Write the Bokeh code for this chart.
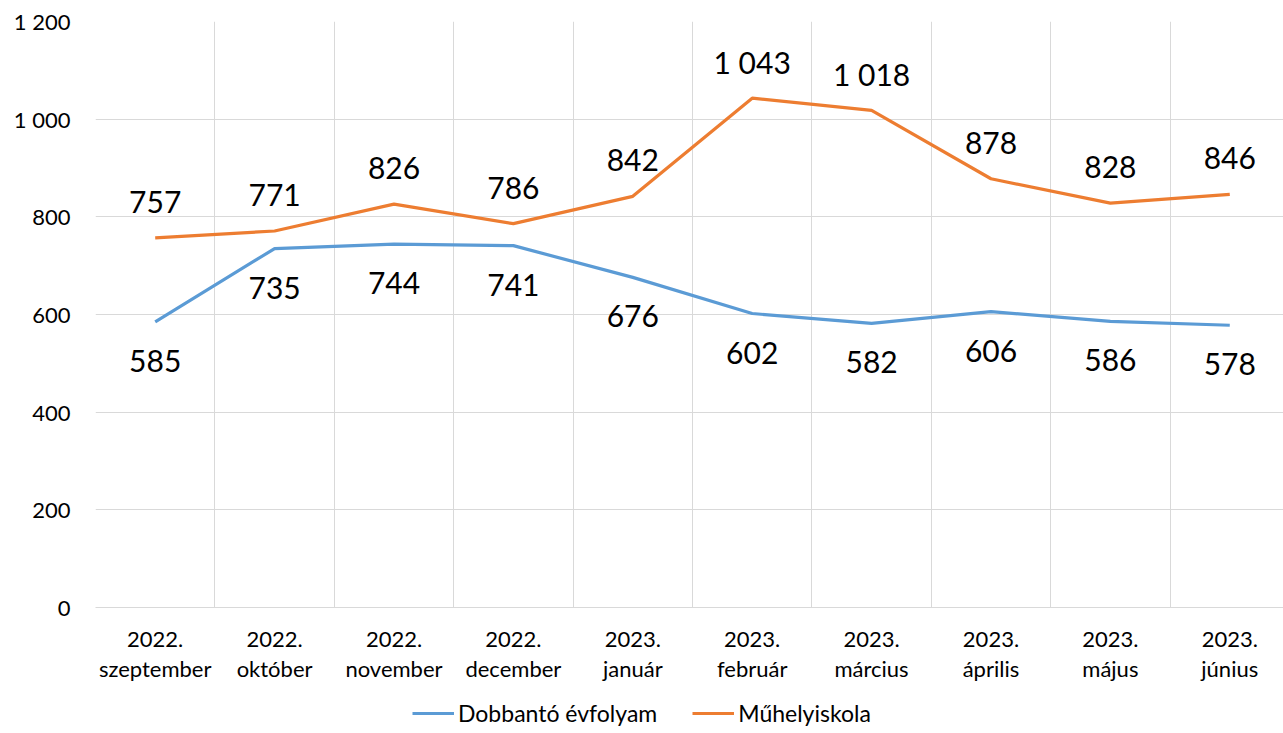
from bokeh.plotting import figure
from bokeh.layouts import column
from bokeh.models import FixedTicker, Legend, LegendItem, ColumnDataSource
from bokeh.core.properties import value
from bokeh.embed import file_html
from bokeh.resources import INLINE

categories = ["2022.\nszeptember", "2022.\noktóber", "2022.\nnovember", "2022.\ndecember",
              "2023.\njanuár", "2023.\nfebruár", "2023.\nmárcius", "2023.\náprilis",
              "2023.\nmájus", "2023.\njúnius"]
dobbanto = [585, 735, 744, 741, 676, 602, 582, 606, 586, 578]
muhely = [757, 771, 826, 786, 842, 1043, 1018, 878, 828, 846]
y_ticks = [0, 200, 400, 600, 800, 1000, 1200]
y_tick_labels = ["0", "200", "400", "600", "800", "1 000", "1 200"]
series_names = ["Dobbantó évfolyam", "Műhelyiskola"]

FONT = "Lato"
BLUE = "#5B9BD5"
ORANGE = "#ED7D31"
GRID = "#D9D9D9"

def fmt(v):
    return f"{v:,}".replace(",", " ")

xs = list(range(len(categories)))
src_d = ColumnDataSource(dict(x=xs, y=dobbanto, t=[fmt(v) for v in dobbanto]))
src_m = ColumnDataSource(dict(x=xs, y=muhely, t=[fmt(v) for v in muhely]))

p = figure(width=1283, height=700, output_backend="svg", toolbar_location=None,
           x_range=(-0.5, 9.45), y_range=(0, 1200),
           min_border_left=95, min_border_right=0, min_border_top=21, min_border_bottom=93)
p.outline_line_color = None
p.background_fill_color = "white"
p.border_fill_color = "white"

r_d = p.line("x", "y", source=src_d, line_color=BLUE, line_width=3.2)
r_m = p.line("x", "y", source=src_m, line_color=ORANGE, line_width=3.2)

p.text("x", "y", text="t", source=src_d, y_offset=39, text_align="center",
       text_baseline="middle", text_font=value(FONT), text_font_size="30px", text_color="#000000")
p.text("x", "y", text="t", source=src_m, y_offset=-36, text_align="center",
       text_baseline="middle", text_font=value(FONT), text_font_size="30px", text_color="#000000")

# axes
p.xaxis.ticker = FixedTicker(ticks=xs)
p.xaxis.major_label_overrides = {i: c for i, c in enumerate(categories)}
p.xaxis.major_label_text_font = FONT
p.xaxis.major_label_text_font_size = "22px"
p.xaxis.major_label_text_color = "#000000"
p.xaxis.major_label_standoff = 11
p.xaxis.major_label_text_line_height = 1.13
p.xaxis.major_tick_line_color = None
p.xaxis.minor_tick_line_color = None
p.xaxis.axis_line_color = GRID

p.yaxis.ticker = FixedTicker(ticks=y_ticks)
p.yaxis.major_label_overrides = {t: l for t, l in zip(y_ticks, y_tick_labels)}
p.yaxis.major_label_text_font = FONT
p.yaxis.major_label_text_font_size = "22px"
p.yaxis.major_label_text_color = "#000000"
p.yaxis.major_label_standoff = 19
p.yaxis.major_tick_line_color = None
p.yaxis.minor_tick_line_color = None
p.yaxis.axis_line_color = None

p.xgrid.ticker = FixedTicker(ticks=[i + 0.5 for i in xs[:-1]] + [-0.5])
p.xgrid.grid_line_color = GRID
p.ygrid.grid_line_color = GRID

# legend strip below the chart
p2 = figure(width=1283, height=33, output_backend="svg", toolbar_location=None,
            x_axis_location=None, y_axis_location=None,
            min_border_left=0, min_border_right=0, min_border_top=0, min_border_bottom=0)
p2.outline_line_color = None
p2.grid.visible = False
l_d = p2.line(xs, dobbanto, line_color=BLUE, line_width=3.2, visible=False)
l_m = p2.line(xs, muhely, line_color=ORANGE, line_width=3.2, visible=False)
legend = Legend(items=[LegendItem(label=series_names[0], renderers=[l_d]),
                       LegendItem(label=series_names[1], renderers=[l_m])],
                orientation="horizontal", location=(317, 6),
                label_text_font=FONT, label_text_font_size="23px", label_text_color="#000000",
                glyph_width=42, glyph_height=20, spacing=35, label_standoff=4,
                border_line_color=None, background_fill_alpha=0, padding=0, margin=0)
p2.add_layout(legend, "center")

layout = column(p, p2, spacing=0)
open("out.html", "w").write(file_html(layout, INLINE))
